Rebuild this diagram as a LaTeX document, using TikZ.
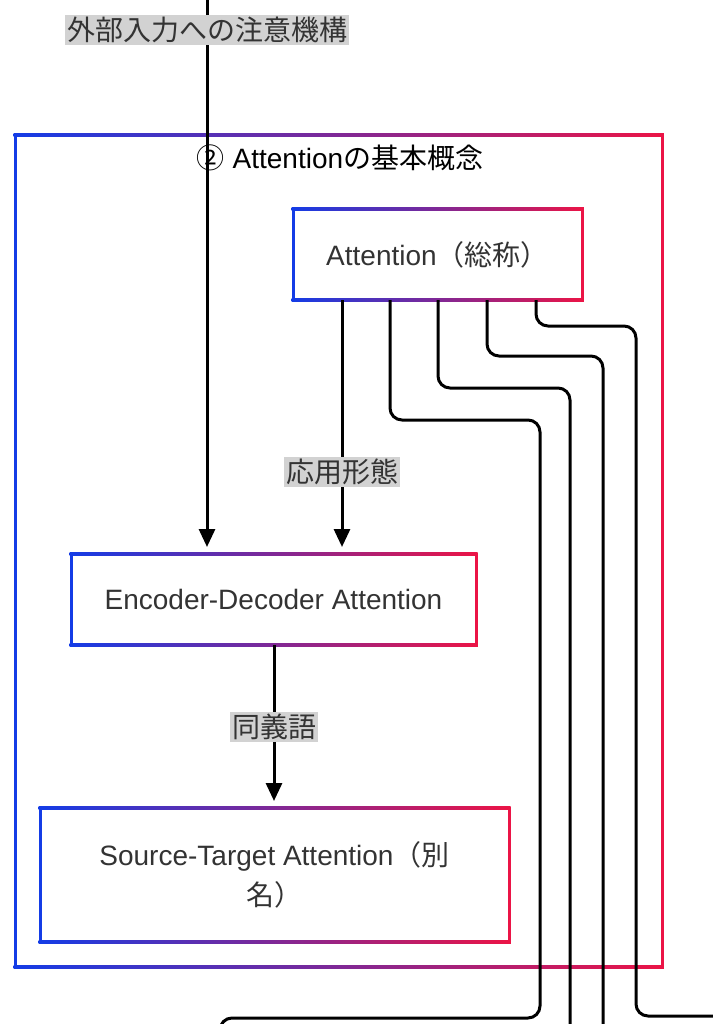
\documentclass[tikz,border=0pt]{standalone}
\usepackage{fontspec}
\setmainfont{Liberation Sans}
\newfontfamily\cjk{Noto Sans CJK JP}
\usetikzlibrary{arrows.meta}
\definecolor{gb}{RGB}{20,60,230}
\definecolor{gr}{RGB}{235,20,70}
\definecolor{lbl}{RGB}{210,210,210}
\newcommand\gframe[4]{%
  \fill[white] (#1,#2) rectangle (#3,#4);
  \shade[left color=gb,right color=gr] (#1-1.5,#2-1.5) rectangle (#3+1.5,#2+1.5);
  \shade[left color=gb,right color=gr] (#1-1.5,#4-1.5) rectangle (#3+1.5,#4+1.5);
  \fill[gb] (#1-1.5,#2-1.5) rectangle (#1+1.5,#4+1.5);
  \fill[gr] (#3-1.5,#2-1.5) rectangle (#3+1.5,#4+1.5);}
\tikzset{
  conn/.style={line width=3pt,black,rounded corners=12pt},
  arr/.style={conn,-{Triangle[length=18pt,width=16pt]}},
  txt/.style={font=\fontsize{28pt}{40pt}\selectfont,text=black!80,align=center},
  lab/.style={txt,font=\cjk\fontsize{28pt}{34pt}\selectfont,fill=lbl,inner sep=2pt}
}
\begin{document}
\begin{tikzpicture}[x=1pt,y=-1pt]
\useasboundingbox (0,0) rectangle (712,1024);
\fill[white] (0,0) rectangle (712,1024);
\gframe{15}{135}{662}{967}
\node[txt,text=black] (title) at (340,158) {{\cjk ②} Attention{\cjk の基本概念}};
\gframe{293}{209}{582}{300}
\node[txt] (att) at (437.5,254.5) {Attention{\cjk （総称）}};
\gframe{71}{554}{476}{645}
\node[txt] (enc) at (273.5,599.5) {Encoder-Decoder Attention};
\gframe{40}{808}{509}{942}
\node[txt] (src) at (274.5,875) {Source-Target Attention{\cjk （別}\\{\cjk 名）}};
\coordinate (a1) at (390,300); \coordinate (a2) at (438,300);
\coordinate (a3) at (487,300); \coordinate (a4) at (536,300);
\draw[conn] (a1) -- (390,420) -- (540,420) -- (540,1018) -- (220,1018) -- (220,1040);
\draw[conn] (a2) -- (438,388) -- (570,388) -- (570,1040);
\draw[conn] (a3) -- (487,356) -- (603,356) -- (603,1040);
\draw[conn] (a4) -- (536,326) -- (636,326) -- (636,1016) -- (730,1016);
\coordinate (top) at (207,0);
\draw[arr] (top) -- (207,547);
\node[lab] (ext) at (207,30) {外部入力への注意機構};
\draw[arr] (342,300) -- (342,547);
\node[lab] (app) at (342,472) {応用形態};
\draw[arr] (274,645) -- (274,801);
\node[lab] (syn) at (274,727) {同義語};
\end{tikzpicture}
\end{document}
